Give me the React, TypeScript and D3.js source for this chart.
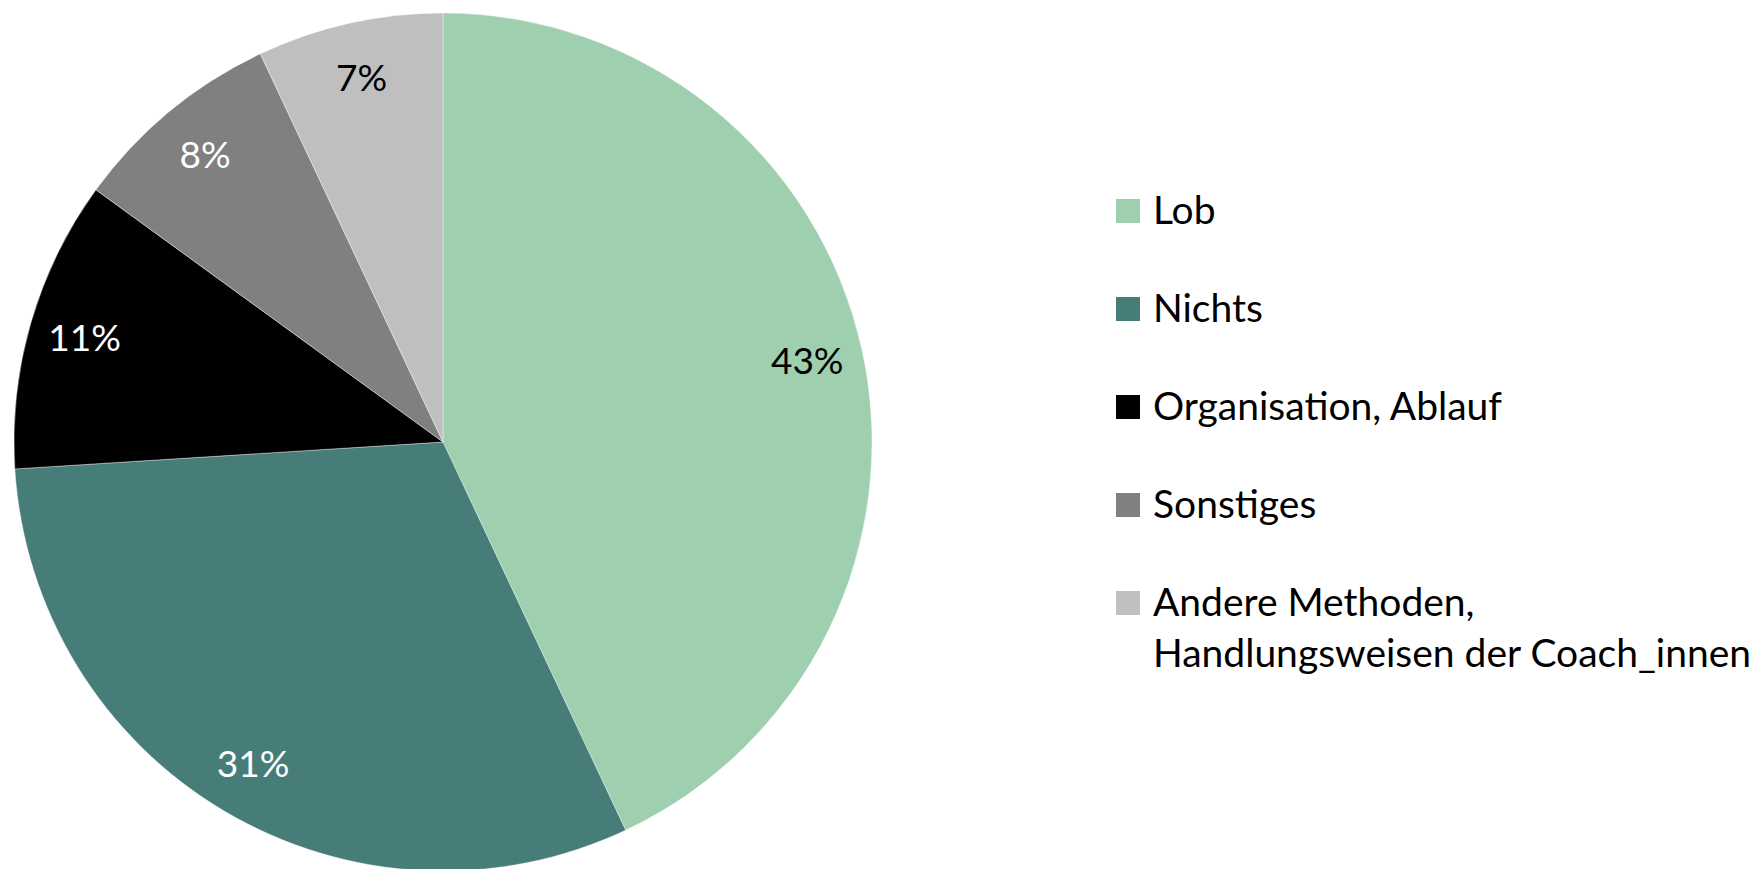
import React from "react";
import * as d3 from "d3";

const categories = ["Lob", "Nichts", "Organisation, Ablauf", "Sonstiges", "Andere Methoden, Handlungsweisen der Coach_innen"];
const legendLines = [["Lob"], ["Nichts"], ["Organisation, Ablauf"], ["Sonstiges"], ["Andere Methoden,", "Handlungsweisen der Coach_innen"]];
const values = [43, 31, 11, 8, 7];
const labels = ["43%", "31%", "11%", "8%", "7%"];
const colors = ["#9ed0af", "#477d79", "#000000", "#808080", "#bfbfbf"];
const labelColors = ["#000000", "#ffffff", "#ffffff", "#ffffff", "#000000"];

const W = 1764;
const H = 869;
const cx = 443;
const cy = 442;
const R = 429;

export default function App() {
  const pie = d3.pie<number>().sort(null).value((d) => d);
  const arcs = pie(values);
  const arcGen = d3.arc<d3.PieArcDatum<number>>().innerRadius(0).outerRadius(R);
  const labelArc = d3.arc<d3.PieArcDatum<number>>().innerRadius(R * 0.87).outerRadius(R * 0.87);

  const legendX = 1116;
  const legendY0 = 211;
  const legendStep = 98;
  const sq = 24;

  return (
    <svg
      width={W}
      height={H}
      style={{ position: "absolute", left: 0, top: 0, display: "block", background: "#ffffff" }}
      fontFamily="Lato, 'Open Sans', sans-serif"
    >
      <g transform={`translate(${cx},${cy})`}>
        {arcs.map((a, i) => (
          <path key={categories[i]} d={arcGen(a) || ""} fill={colors[i]} stroke="#ffffff" strokeWidth={0.4} />
        ))}
        {arcs.map((a, i) => {
          const [x, y] = labelArc.centroid(a);
          return (
            <text key={"l" + i} x={x} y={y} dy="0.36em" textAnchor="middle" fontSize={37} fill={labelColors[i]}>
              {labels[i]}
            </text>
          );
        })}
      </g>
      <g>
        {legendLines.map((lines, i) => {
          const yc = legendY0 + i * legendStep;
          return (
            <g key={"leg" + i}>
              <rect x={legendX} y={yc - sq / 2} width={sq} height={sq} fill={colors[i]} />
              {lines.map((ln, j) => (
                <text key={j} x={legendX + 37} y={yc + 13 + j * 51} fontSize={39} fill="#000000">
                  {ln}
                </text>
              ))}
            </g>
          );
        })}
      </g>
    </svg>
  );
}
